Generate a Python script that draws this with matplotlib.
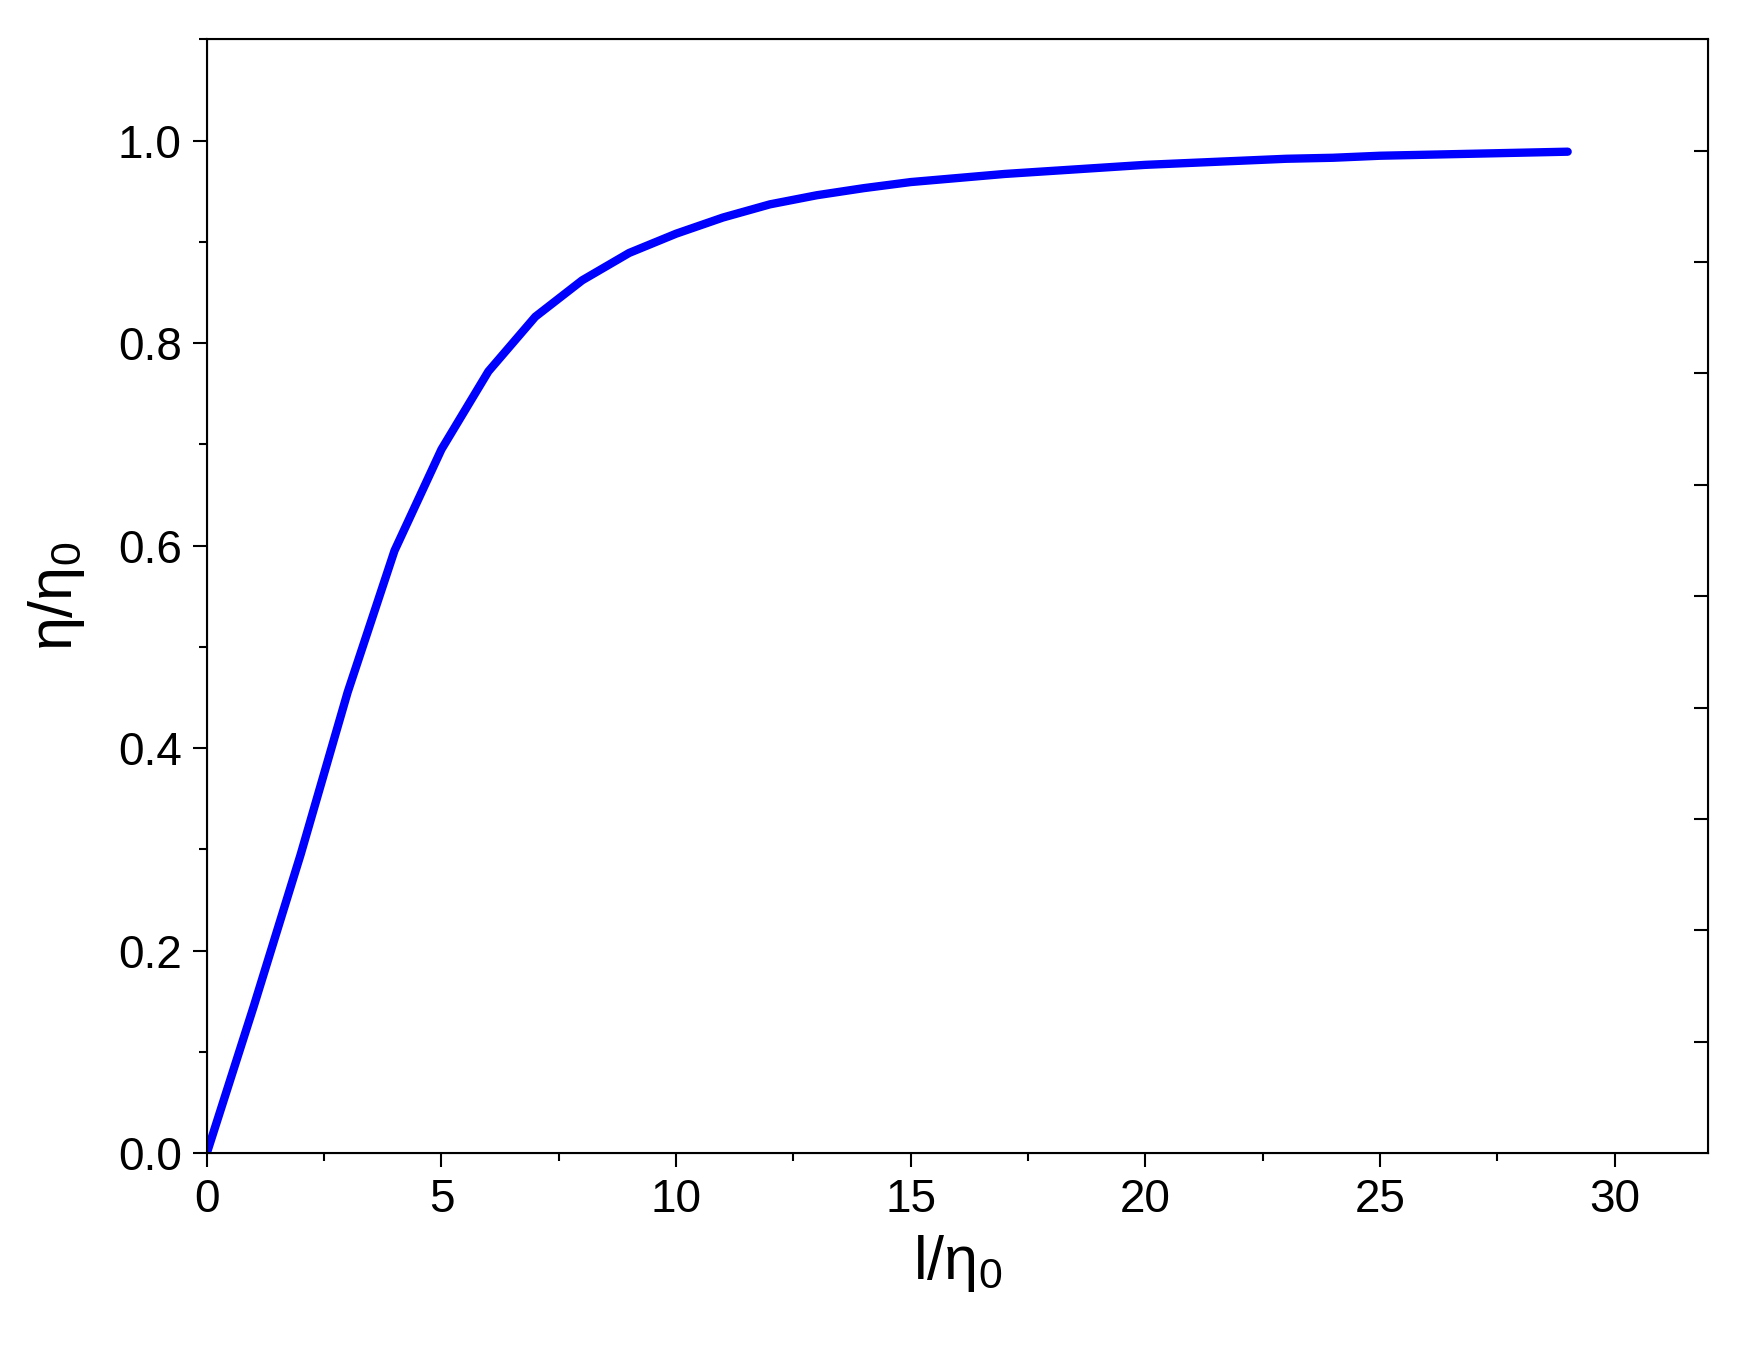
import matplotlib
matplotlib.use("Agg")
import matplotlib.pyplot as plt
import numpy as np
from matplotlib.ticker import MultipleLocator

x = list(range(0, 30))
y = [0.0, 0.145, 0.295, 0.455, 0.595, 0.695, 0.772, 0.826, 0.862, 0.889, 0.908, 0.924, 0.937, 0.946,
     0.953, 0.959, 0.963, 0.967, 0.970, 0.973, 0.976, 0.978, 0.980, 0.982, 0.983, 0.985,
     0.986, 0.987, 0.988, 0.989]

plt.rcParams['font.family'] = ['Liberation Sans', 'DejaVu Sans']
fig = plt.figure(figsize=(17.38, 13.55), dpi=100)
ax = fig.add_axes([0.119, 0.149, 0.864, 0.822])
ax.plot(x, y, color='#0000ff', lw=6, solid_capstyle='round')
ax.set_xlim(0, 32)
ax.set_ylim(0, 1.1)
ax.xaxis.set_major_locator(MultipleLocator(5))
ax.xaxis.set_minor_locator(MultipleLocator(2.5))
ax.yaxis.set_major_locator(MultipleLocator(0.2))
ax.yaxis.set_minor_locator(MultipleLocator(0.1))
ax.tick_params(which='both', direction='out', width=1.5, labelsize=33)
ax.tick_params(which='major', length=10, pad=8)
ax.tick_params(which='minor', length=6)
ax.set_yticks(np.arange(0, 1.01, 0.2))
ax.set_yticklabels(['0.0', '0.2', '0.4', '0.6', '0.8', '1.0'])
for s in ax.spines.values():
    s.set_linewidth(1.5)
ax2 = ax.twinx()
ax2.set_ylim(0, 1.1)
ax2.set_yticks(np.arange(0.11, 1.0, 0.11))
ax2.tick_params(direction='in', length=10, width=1.5, labelright=False)
ax.set_xlabel(r'l/$\mathregular{\eta_0}$', fontsize=44, labelpad=8)
ax.set_ylabel(r'$\mathregular{\eta/\eta_0}$', fontsize=44, labelpad=22)
fig.savefig('out.png')
